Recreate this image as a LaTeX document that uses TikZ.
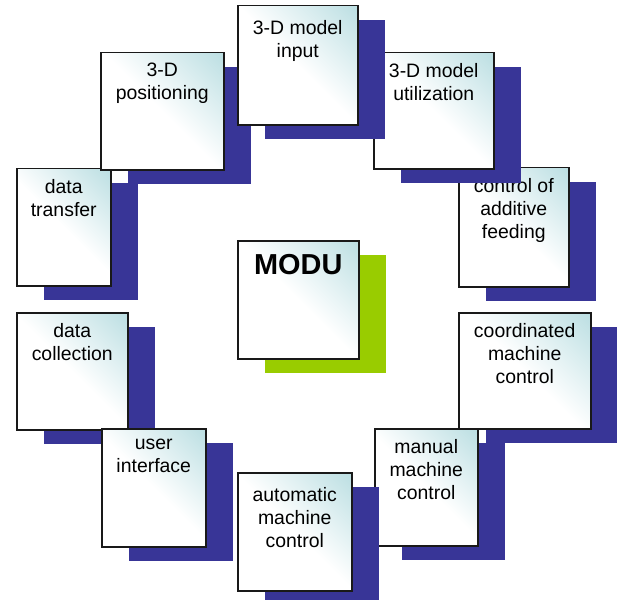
\documentclass[tikz,border=0pt]{standalone}
\usepackage{fontspec}
\setmainfont{Liberation Sans}
\usetikzlibrary{shadows,positioning}

\definecolor{shadowblue}{RGB}{56,53,151}
\definecolor{modugreen}{RGB}{153,204,0}
\definecolor{boxteal}{RGB}{182,220,224}
\pgfdeclareverticalshading{boxfade}{100bp}{color(0bp)=(white); color(50bp)=(white); color(88bp)=(boxteal); color(100bp)=(boxteal)}

\begin{document}
\begin{tikzpicture}[x=1bp, y=-1bp,
	    FNblock/.style= {
	        draw=black!90, line width=1.5bp,
	        shading=boxfade, shading angle=-45,
	        anchor=north west, inner sep=0pt,
	        drop shadow={shadow xshift=27bp, shadow yshift=-14bp, opacity=1, fill=#1}},
	    FNblock/.default=shadowblue,
	    FNtext/.style= {
	        anchor=north, yshift=-11bp, align=center, inner sep=0pt,
	        font=\fontsize{19.5}{23}\selectfont,
	        execute at begin node=\strut}]

		\useasboundingbox (0,0) rectangle (617,600);

		% Blocks
		\node [FNblock, minimum width=132bp, minimum height=116bp,
		    label={[FNtext]north:{coordinated\\machine\\control}}] (coord) at (458,312) {};
		\node [FNblock, minimum width=103bp, minimum height=117bp,
		    label={[FNtext]north:{manual\\machine\\control}}] (manual) at (374,428) {};
		\node [FNblock, minimum width=114bp, minimum height=118bp,
		    label={[FNtext,yshift=-4bp]north:{automatic\\machine\\control}}] (auto) at (237,472) {};
		\node [FNblock, minimum width=111bp, minimum height=117bp,
		    label={[FNtext]north:{data\\collection}}] (collect) at (16,312) {};
		\node [FNblock, minimum width=104bp, minimum height=118bp,
		    label={[FNtext]north:{user\\interface}}] (user) at (101,428) {};
		\node [FNblock, minimum width=94bp, minimum height=117bp,
		    label={[FNtext]north:{data\\transfer}}] (transfer) at (16,168) {};
		\node [FNblock, minimum width=110bp, minimum height=119bp,
		    label={[FNtext]north:{control of\\additive\\feeding}}] (feed) at (458,167) {};
		\node [FNblock, minimum width=120bp, minimum height=116bp,
		    label={[FNtext]north:{3-D model\\utilization}}] (util) at (373,52) {};
		\node [FNblock, minimum width=123bp, minimum height=117bp,
		    label={[FNtext]north:{3-D\\positioning}}] (pos) at (100,52) {};
		\node [FNblock, minimum width=120bp, minimum height=119bp,
		    label={[FNtext,yshift=-4bp]north:{3-D model\\input}}] (input) at (237,5) {};

		% Core
		\node [FNblock=modugreen, minimum width=121bp, minimum height=118bp,
		    label={[FNtext,font=\fontsize{29}{34}\selectfont\bfseries]north:MODU}] (modu) at (237,240) {};

	\end{tikzpicture}
\end{document}
